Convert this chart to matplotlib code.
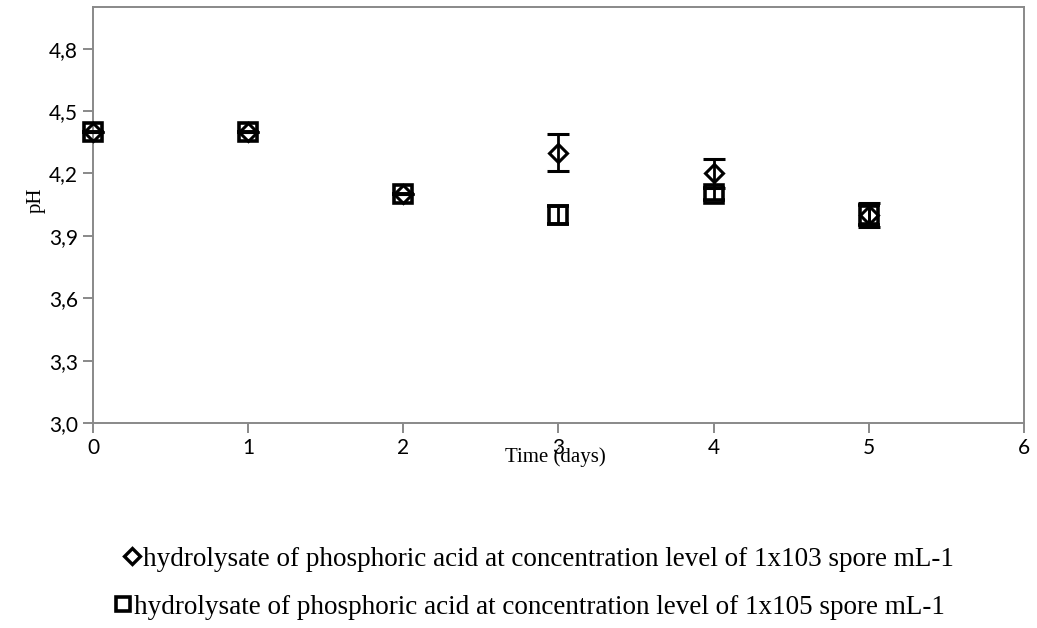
import matplotlib
matplotlib.use("Agg")
import matplotlib.pyplot as plt
from matplotlib.lines import Line2D

# pH over time for two spore concentrations
days = [0, 1, 2, 3, 4, 5]
ph_1e3 = [4.4, 4.4, 4.1, 4.3, 4.2, 4.0]
err_1e3 = [0.0, 0.0, 0.0, 0.09, 0.07, 0.06]
ph_1e5 = [4.4, 4.4, 4.1, 4.0, 4.1, 4.0]
err_1e5 = [0.0, 0.0, 0.0, 0.045, 0.03, 0.05]

y_ticks = [3.0, 3.3, 3.6, 3.9, 4.2, 4.5, 4.8]
x_ticks = [0, 1, 2, 3, 4, 5, 6]
label_1e3 = "hydrolysate of phosphoric acid at concentration level of 1x103 spore mL-1"
label_1e5 = "hydrolysate of phosphoric acid at concentration level of 1x105 spore mL-1"

W, H = 1037, 628
fig = plt.figure(figsize=(W / 100, H / 100), dpi=100)
ax = fig.add_axes([93 / W, 1 - 423 / H, (1024 - 93) / W, (423 - 7) / H])

axis_grey = "#898989"
tick_font = {"family": ["Lato", "DejaVu Sans"], "size": 15}
serif = ["Liberation Serif", "DejaVu Serif"]

ax.errorbar(days, ph_1e3, yerr=err_1e3, fmt="D", ms=9.5, mfc="none", mec="black",
            mew=2.2, ecolor="black", elinewidth=2.0, capsize=8, capthick=2.0,
            clip_on=False, zorder=3)
ax.errorbar(days, ph_1e5, yerr=err_1e5, fmt="s", ms=13, mfc="none", mec="black",
            mew=2.6, ecolor="black", elinewidth=2.0, capsize=8, capthick=2.0,
            clip_on=False, zorder=4)

ax.set_xlim(0, 6)
ax.set_ylim(3.0, 5.0)
ax.set_xticks(x_ticks)
ax.set_yticks(y_ticks)
ax.set_xticklabels([str(v) for v in x_ticks], fontdict=tick_font)
ax.set_yticklabels([f"{v:.1f}".replace(".", ",") for v in y_ticks], fontdict=tick_font)

for side in ["left", "right", "top", "bottom"]:
    ax.spines[side].set_color(axis_grey)
    ax.spines[side].set_linewidth(1.4)
ax.tick_params(axis="both", direction="out", length=7, width=1.4, color=axis_grey,
               labelcolor="black")
ax.tick_params(axis="x", pad=4)
ax.tick_params(axis="y", pad=4)

ax.set_xlabel("Time (days)", family=serif, fontsize=15)
ax.set_ylabel("pH", family=serif, fontsize=15)
ax.xaxis.set_label_coords((555 - 93) / (1024 - 93), -(447 - 423) / (423 - 7))
ax.yaxis.set_label_coords(-(93 - 46) / (1024 - 93), (423 - 200) / (423 - 7))

h1 = Line2D([], [], marker="D", ls="none", ms=8.5, mfc="none", mec="black", mew=2.4)
h2 = Line2D([], [], marker="s", ls="none", ms=10.5, mfc="none", mec="black", mew=2.6)
leg_kw = dict(frameon=False, prop={"family": serif, "size": 19.5}, handlelength=0.6,
              handletextpad=0.1, borderpad=0, borderaxespad=0)
fig.legend([h1], [label_1e3], loc="center", bbox_to_anchor=(539 / W, 1 - 559 / H), **leg_kw)
fig.legend([h2], [label_1e5], loc="center", bbox_to_anchor=(530 / W, 1 - 607 / H), **leg_kw)

fig.savefig("out.png", dpi=100, facecolor="white")
